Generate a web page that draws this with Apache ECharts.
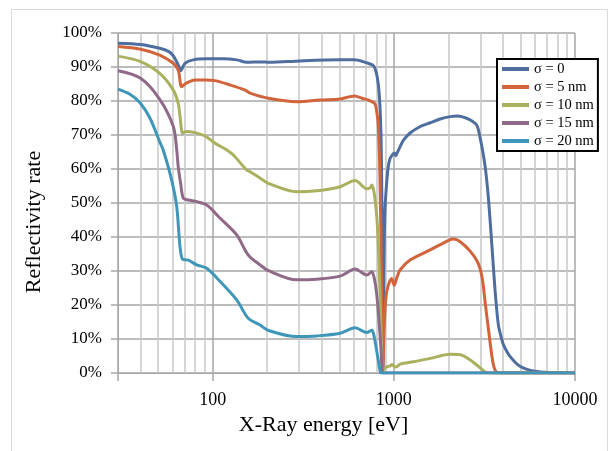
<!DOCTYPE html>
<html><head><meta charset="utf-8">
<script src="https://cdn.jsdelivr.net/npm/echarts@6/dist/echarts.min.js"></script>
<style>html,body{margin:0;padding:0;background:#fff}#c{width:609px;height:451px}</style>
</head><body><div id="c"></div>
<script>
const seriesNames = ['σ = 0', 'σ = 5 nm', 'σ = 10 nm', 'σ = 15 nm', 'σ = 20 nm'];
const seriesColors = ['#4F6EA0', '#D2643C', '#ABB05E', '#8F6A88', '#3E96B8'];

// σ = 0
const energy0 = [30, 40, 51, 57, 60.6, 64.5, 66.5, 70.3, 78, 92.7, 114, 136, 154, 183, 207, 303, 505, 606, 721, 771, 801, 822, 837, 848, 856, 865, 871, 875, 880, 887, 895, 910, 930, 955, 985, 1005, 1025, 1045, 1083, 1130, 1230, 1400, 1587, 1800, 2046, 2250, 2500, 2700, 2874, 2998, 3100, 3195, 3265, 3332, 3440, 3524, 3630, 3772, 3900, 4030, 4390, 4990, 6000, 7500, 10000];
const refl0   = [97.0, 96.6, 95.5, 94.6, 93.3, 90.6, 88.9, 91.1, 92.1, 92.4, 92.4, 92.1, 91.4, 91.5, 91.4, 91.8, 92.1, 92.1, 91.1, 90.4, 88.2, 84.5, 79, 71, 58, 30, 1, 10, 28, 42, 49, 55, 60.5, 63.2, 64.3, 64.7, 63.9, 64.8, 66.6, 68.5, 70.6, 72.5, 73.6, 74.7, 75.4, 75.6, 75.0, 74.1, 72.8, 69, 65, 60.5, 56, 51, 41, 33, 23.5, 14.3, 10.8, 8.3, 4.8, 1.9, 0.5, 0.15, 0.05];

// σ = 5 nm
const energy1 = [30, 40, 51, 60.6, 64.5, 67.4, 71.2, 79.8, 90.7, 103, 125, 151, 161, 203, 291, 391, 505, 606, 668, 721, 769, 790, 806, 819, 837, 854, 862, 870, 876, 882, 892, 910, 930, 950, 970, 1005, 1030, 1083, 1230, 1587, 2020, 2134, 2325, 2640, 2874, 3000, 3094, 3195, 3290, 3380, 3476, 3560, 3680, 4000, 10000];
const refl1   = [96.0, 95.2, 93.5, 91.1, 89.1, 84.2, 85.2, 86.2, 86.2, 86.0, 84.7, 83.2, 82.3, 80.8, 79.8, 80.3, 80.6, 81.5, 80.8, 80.3, 79.6, 79, 76.5, 73.4, 58.8, 29.4, 10, 1, 6, 12, 18, 23.5, 25.6, 27.0, 27.8, 25.8, 27.5, 30.3, 33.2, 36.2, 39.1, 39.4, 38.6, 35.8, 33, 30.5, 27, 20.5, 15, 10, 5, 2, 0.3, 0, 0];

// σ = 10 nm
const energy2 = [30, 40, 51, 60.6, 64.5, 66, 68.3, 71.2, 79.8, 90.7, 103, 119.5, 130, 154, 161, 183, 207, 291, 375, 505, 611, 709, 740, 756, 775, 795, 812, 826, 838, 848, 858, 866, 880, 892, 920, 955, 975, 1000, 1028, 1083, 1283, 1587, 2046, 2325, 2640, 2934, 3195, 3400, 10000];
const refl2   = [93.2, 91.6, 88.1, 83.2, 79.3, 75.4, 70.5, 71.0, 70.7, 69.7, 67.6, 65.6, 64.1, 59.7, 59.2, 57.3, 55.6, 53.3, 53.6, 54.8, 56.6, 54.2, 54.5, 55.3, 53.5, 49, 43, 34, 24, 14, 4, 0.5, 1.0, 1.4, 1.9, 2.1, 2.5, 2.0, 1.8, 2.6, 3.3, 4.3, 5.5, 5.4, 3.8, 1.9, 0.3, 0, 0];

// σ = 15 nm
const energy3 = [30, 40, 51, 60.6, 63.3, 64.5, 66.5, 68.8, 73.3, 81.6, 92.7, 110, 135.7, 157, 182.5, 203, 291, 375, 505, 611, 709, 756, 780, 805, 826, 848, 862, 870, 10000];
const refl3   = [88.9, 86.7, 80.5, 72.5, 65.6, 60.7, 55.8, 51.4, 50.9, 50.4, 49.4, 45.5, 40.6, 34.7, 31.8, 30.1, 27.4, 27.6, 28.5, 30.6, 28.8, 29.8, 27.8, 23, 16, 7.5, 1, 0, 0];

// σ = 20 nm
const energy4 = [30, 34.9, 39.7, 45, 51, 53.3, 59.3, 63.3, 66, 68.3, 73.3, 81.6, 92.7, 110, 135.7, 157, 182.5, 203, 291, 375, 505, 611, 709, 756, 775, 801, 822, 840, 850, 10000];
const refl4   = [83.5, 82, 79.5, 75, 68, 65.6, 56.8, 48.9, 37.1, 33.4, 33.2, 31.8, 30.8, 26.9, 21.5, 16.1, 14.1, 12.5, 10.7, 10.9, 11.7, 13.3, 11.9, 12.6, 11.2, 7, 3.5, 0.5, 0, 0];

const majorTickLabels = ['100', '1000', '10000'];
const minorGridValues = [40, 50, 60, 70, 80, 90, 200, 300, 400, 500, 600, 700, 800, 900, 2000, 3000, 4000, 5000, 6000, 7000, 8000, 9000];

const energies = [energy0, energy1, energy2, energy3, energy4];
const refls = [refl0, refl1, refl2, refl3, refl4];

const serif = '"Liberation Serif", "Times New Roman", serif';
const pairs = (e, r) => e.map((x, i) => [x, r[i]]);

const chart = echarts.init(document.getElementById('c'), null, {renderer: 'canvas'});

const series = seriesNames.map((name, k) => ({
  name: name,
  type: 'line',
  data: pairs(energies[k], refls[k]),
  symbol: 'none',
  showSymbol: false,
  smooth: 0.3,
  lineStyle: {width: 3, color: seriesColors[k]},
  itemStyle: {color: seriesColors[k]},
  z: 3
}));

series.unshift({
  name: 'grid',
  type: 'line',
  data: [],
  silent: true,
  z: 1,
  markLine: {
    silent: true,
    z: 1,
    animation: false,
    symbol: ['none', 'none'],
    label: {show: false},
    emphasis: {disabled: true},
    lineStyle: {color: '#c9c9c9', width: 1.5, type: 'solid'},
    data: minorGridValues.map(v => ({xAxis: v}))
  }
});

const option = {
  animation: false,
  backgroundColor: '#ffffff',
  graphic: [{
    type: 'rect', silent: true, z: 0,
    shape: {x: 11.5, y: 9.5, width: 596, height: 460},
    style: {fill: 'none', stroke: '#d9d9d9', lineWidth: 1}
  }],
  grid: {left: 118, right: 34, top: 33, bottom: 78},
  legend: {
    data: seriesNames,
    orient: 'vertical',
    left: 497, top: 59,
    backgroundColor: '#ffffff',
    borderColor: '#000000',
    borderWidth: 2,
    borderRadius: 0,
    padding: [1, 4, 1, 5],
    itemGap: 0,
    icon: 'rect',
    itemWidth: 27,
    itemHeight: 4,
    textStyle: {fontFamily: serif, fontSize: 14.5, color: '#000', lineHeight: 18},
    z: 10
  },
  xAxis: {
    type: 'log', logBase: 10, min: 30, max: 10000,
    axisLine: {show: true, lineStyle: {color: '#a6a6a6', width: 1}},
    axisTick: {show: true, length: 8, lineStyle: {color: '#a6a6a6', width: 1.5}},
    axisLabel: {
      margin: 18, color: '#000', fontFamily: serif, fontSize: 18,
      formatter: function (v) {
        const s = String(Math.round(v));
        return majorTickLabels.indexOf(s) >= 0 ? s : '';
      }
    },
    splitLine: {show: true, lineStyle: {color: '#a6a6a6', width: 1.5}},
    name: 'X-Ray energy [eV]', nameLocation: 'middle', nameGap: 38,
    nameTextStyle: {fontFamily: serif, fontSize: 22, color: '#000', padding: [0, 46, 0, 0]}
  },
  yAxis: {
    type: 'value', min: 0, max: 100, interval: 10,
    axisLine: {show: true, lineStyle: {color: '#a6a6a6', width: 1}},
    axisTick: {show: true, length: 7, lineStyle: {color: '#a6a6a6', width: 1.5}},
    axisLabel: {margin: 16, formatter: '{value}%', fontFamily: serif, fontSize: 17, color: '#000'},
    splitLine: {show: true, lineStyle: {color: '#a6a6a6', width: 1.5}},
    name: 'Reflectivity rate', nameLocation: 'middle', nameGap: 73,
    nameTextStyle: {fontFamily: serif, fontSize: 22, color: '#000', padding: [0, 38, 0, 0]}
  },
  series: series
};
chart.setOption(option);
</script></body></html>
